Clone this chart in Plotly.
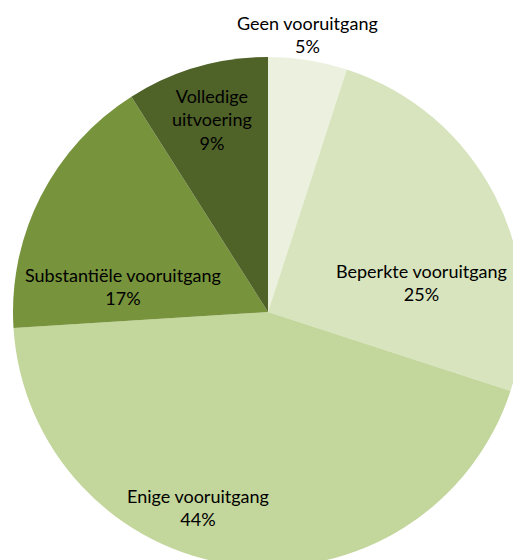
import plotly.graph_objects as go

categories = ["Geen vooruitgang", "Beperkte vooruitgang", "Enige vooruitgang",
              "Substantiële vooruitgang", "Volledige uitvoering"]
label_lines = [["Geen vooruitgang"], ["Beperkte vooruitgang"], ["Enige vooruitgang"],
               ["Substantiële vooruitgang"], ["Volledige", "uitvoering"]]
values = [5, 25, 44, 17, 9]
colors = ["#EBF1DE", "#D7E4BD", "#C3D69B", "#77933C", "#4F6228"]

W, H = 540, 580
cx, cy, r = 268, 312, 255

# label block centres (page px)
label_pos = [(307, 34), (421, 283), (198, 507), (123, 286), (212, 119)]

fig = go.Figure(go.Pie(
    labels=categories, values=values, sort=False, direction="clockwise",
    rotation=0, marker=dict(colors=colors, line=dict(width=0)),
    textinfo="none", hoverinfo="label+percent", showlegend=False,
    domain=dict(x=[(cx - r) / W, (cx + r) / W], y=[1 - (cy + r) / H, 1 - (cy - r) / H]),
))

total = sum(values)
for lines, v, (px, py) in zip(label_lines, values, label_pos):
    txt = "<br>".join(lines + [f"{round(100 * v / total)}%"])
    fig.add_annotation(text=txt, x=px / W, y=1 - py / H, xref="paper", yref="paper",
                       showarrow=False, xanchor="center", yanchor="middle",
                       font=dict(family="Lato", size=18, color="#000000"))

fig.update_layout(width=W, height=H, margin=dict(l=0, r=0, t=0, b=0),
                  paper_bgcolor="white", plot_bgcolor="white")

fig.write_html("out.html", config={"displayModeBar": False},
               post_script="document.body.style.margin='0';document.body.style.overflow='hidden';")
